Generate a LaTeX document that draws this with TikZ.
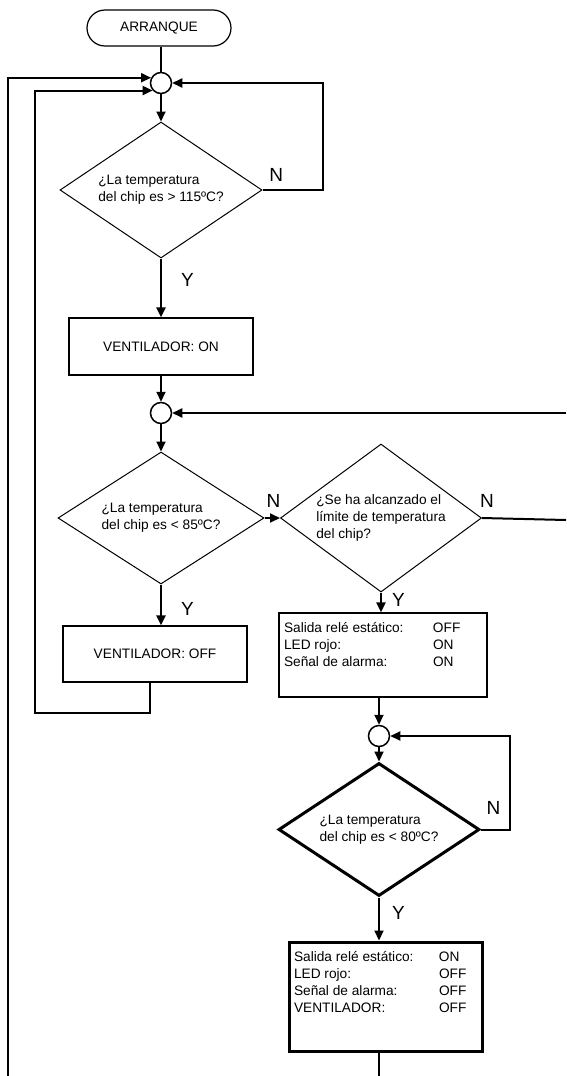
\documentclass[tikz,border=0pt]{standalone}
\usepackage{fontspec}
\setmainfont{Liberation Sans}
\usetikzlibrary{shapes.geometric,arrows.meta}
\newcommand{\outrow}[3][149pt]{\makebox[#1][l]{#2}#3}

\begin{document}
\begin{tikzpicture}[x=1pt, y=-1pt,
every node/.style={font=\fontsize{13.7}{17}\selectfont, inner sep=0pt},
terminal/.style={draw, line width=1.2pt, rounded corners=18pt, minimum width=144pt, minimum height=36pt},
junction/.style={draw, circle, line width=1.5pt, minimum size=21pt},
decision/.style={draw, diamond, aspect=1.4, line width=1pt, align=left},
process/.style={draw, line width=1.2pt},
wire/.style={line width=2pt},
flow/.style={wire, -{Triangle[length=10pt,width=9pt]}},
answer/.style={font=\fontsize{19}{19}\selectfont, inner sep=1pt}]
\useasboundingbox (0,0) rectangle (566,1076);
\node[terminal] (start) at (159,28) {ARRANQUE};
\node[junction] (j1) at (161,83) {};
\node[decision, minimum width=202pt, minimum height=136pt] (hot) at (161,190) {¿La temperatura\\del chip es > 115ºC?};
\node[process, minimum width=184pt, minimum height=57pt] (fanon) at (161,346.5) {VENTILADOR: ON};
\node[junction] (j2) at (161,413) {};
\node[decision, minimum width=206pt, minimum height=132pt] (cool) at (161,518) {¿La temperatura\\del chip es < 85ºC?};
\node[process, minimum width=184pt, minimum height=56pt] (fanoff) at (155,654) {VENTILADOR: OFF};
\node[decision, minimum width=201pt, minimum height=148pt] (limit) at (381,518) {¿Se ha alcanzado el\\límite de temperatura\\del chip?};
\node[process, inner sep=5pt] (alarm) at (383,655) {\parbox[c][74pt][t]{198pt}{\vspace*{4pt}%
\outrow{Salida relé estático:}{OFF}\\
\outrow{LED rojo:}{ON}\\
\outrow{Señal de alarma:}{ON}}};
\node[junction] (j3) at (379,736) {};
\node[decision, line width=3pt, minimum width=201pt, minimum height=133pt] (safe) at (379,829.5) {¿La temperatura\\del chip es < 80ºC?};
\node[process, line width=3pt, inner sep=5pt] (reset) at (385.5,996.5) {\parbox[c][99pt][t]{183pt}{\vspace*{4pt}%
\outrow[145pt]{Salida relé estático:}{ON}\\
\outrow[145pt]{LED rojo:}{OFF}\\
\outrow[145pt]{Señal de alarma:}{OFF}\\
\outrow[145pt]{VENTILADOR:}{OFF}}};
\coordinate (edgein) at (566,413);
\coordinate (edgeout) at (566,520);
\coordinate (foot) at (379,1076);
\coordinate (leftfoot) at (8,1076);
\draw[wire] (start.south -| j1) -- (j1.north);
\draw[flow] (j1.south) -- (hot.north);
\draw[flow] (hot.east) -- node[answer, pos=.23, above=7pt] {N} ++(60,0) |- (j1.east);
\draw[flow] (hot.south) -- node[answer, pos=.37, right=18pt] {Y} (fanon.north);
\draw[flow] (fanon.south) -- (j2.north);
\draw[flow] (edgein) -- (j2.east);
\draw[flow] (j2.south) -- (cool.north);
\draw[flow] (cool.east) -- node[answer, pos=.58, above=9pt] {N} (limit.west);
\draw[flow] (cool.south) -- node[answer, pos=.6, right=18pt] {Y} (fanoff.north -| cool.south);
\draw[flow] ([xshift=-5pt]fanoff.south) -- ++(0,30) -- ++(-115,0) |- (j1.222);
\draw[flow] (leftfoot) |- (j1.152);
\draw[wire] (limit.east) -- node[answer, pos=.06, above=9pt] {N} (edgeout);
\draw[flow] (limit.south) -- node[answer, pos=.36, right=9pt] {Y} (alarm.north -| limit.south);
\draw[flow] (alarm.south -| j3) -- (j3.north);
\draw[flow] (j3.south) -- (safe.north);
\draw[flow] (safe.east) -- node[answer, pos=.43, above=13.5pt] {N} ++(29,0) |- (j3.east);
\draw[flow] (safe.south) -- node[answer, pos=.37, right=11pt] {Y} (reset.north -| safe.south);
\draw[wire] (reset.south -| safe.south) -- (foot);
\end{tikzpicture}
\end{document}
